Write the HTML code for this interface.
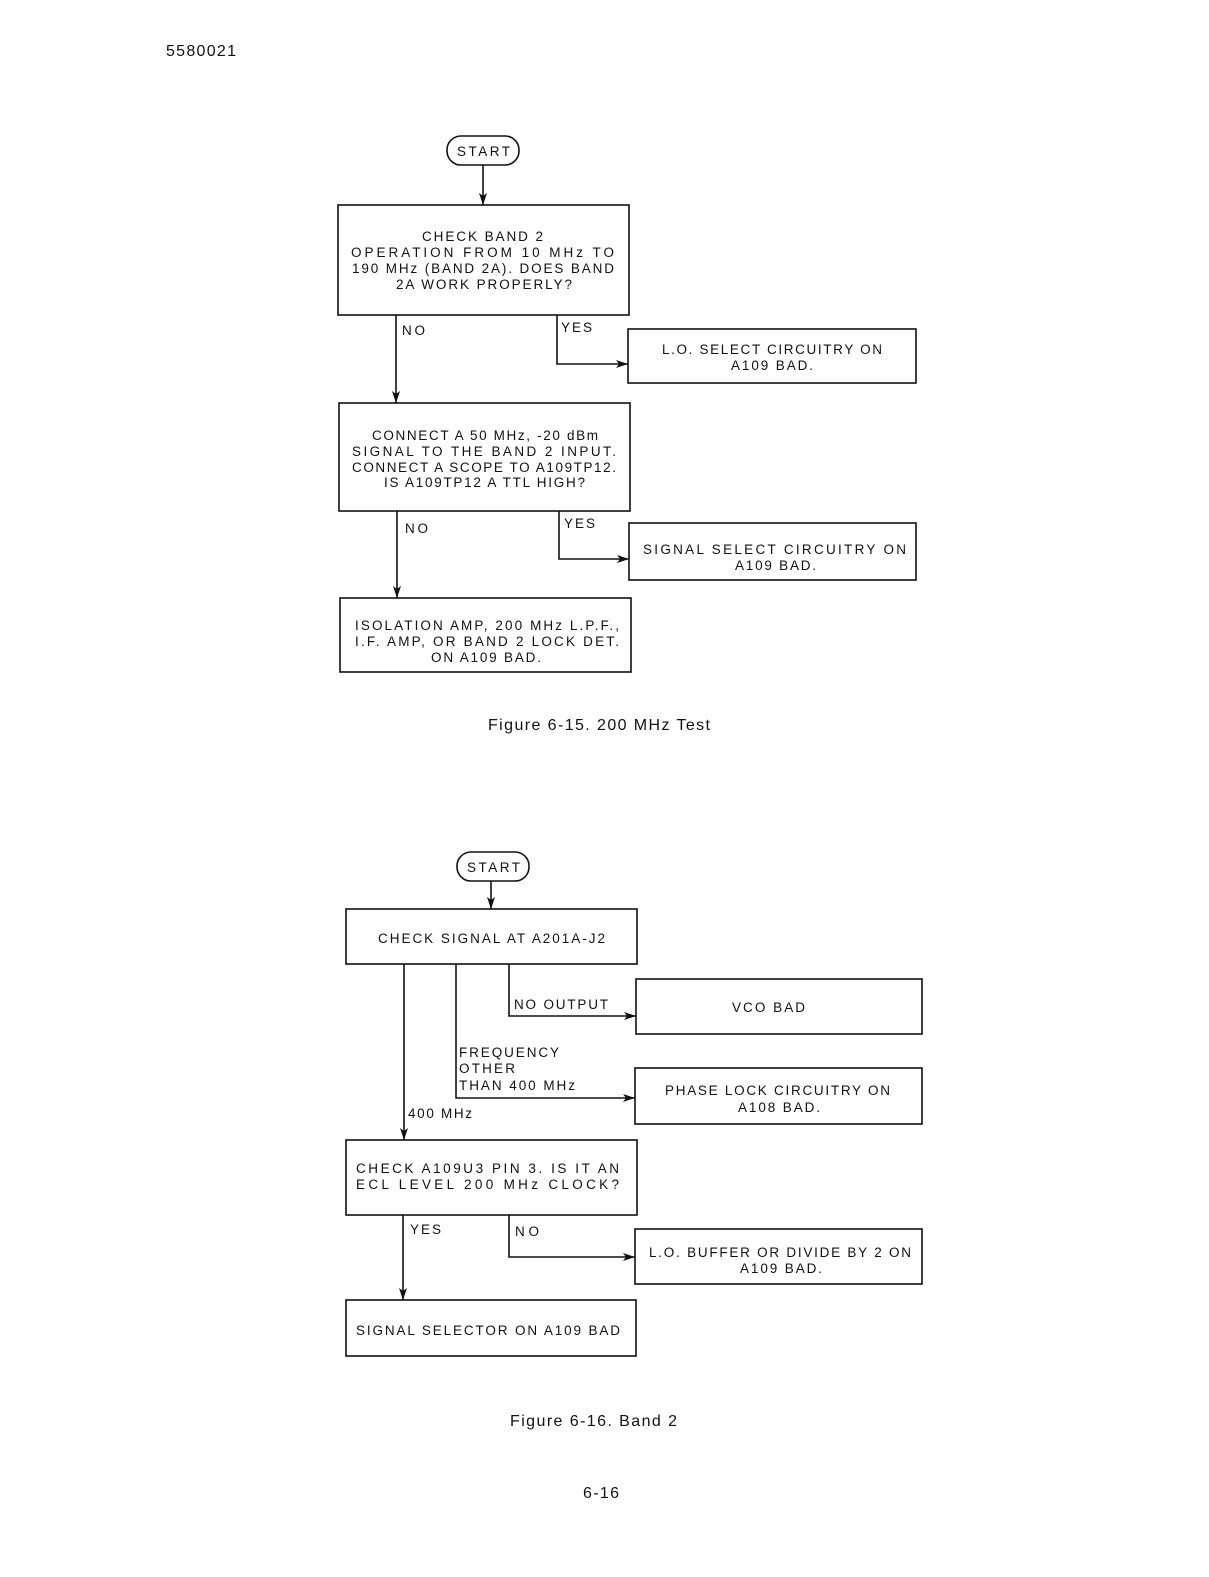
<!DOCTYPE html>
<html><head><meta charset="utf-8"><style>
html,body{margin:0;padding:0;background:#fff;}
svg{display:block;}
text{font-family:"Liberation Sans",sans-serif;font-size:13.5px;fill:#111;}
.c{text-anchor:start;}
</style></head><body>
<svg width="1209" height="1577" viewBox="0 0 1209 1577" xmlns="http://www.w3.org/2000/svg">
<defs><marker id="a" markerWidth="12" markerHeight="8" refX="12" refY="4" orient="auto" markerUnits="userSpaceOnUse"><path d="M0,0 L12,4 L0,8 L3,4 Z" fill="#111"/></marker></defs>
<g stroke="#111" stroke-width="1.6" fill="none">
<rect x="447" y="136" width="72" height="29" rx="14"/>
<line x1="483" y1="165" x2="483" y2="205" marker-end="url(#a)"/>
<rect x="338" y="205" width="291" height="110"/>
<line x1="396" y1="315" x2="396" y2="403" marker-end="url(#a)"/>
<polyline points="557,315 557,364 628,364" marker-end="url(#a)"/>
<rect x="628" y="329" width="288" height="54"/>
<rect x="339" y="403" width="291" height="108"/>
<line x1="397" y1="511" x2="397" y2="598" marker-end="url(#a)"/>
<polyline points="559,511 559,559 629,559" marker-end="url(#a)"/>
<rect x="629" y="523" width="287" height="57"/>
<rect x="340" y="598" width="291" height="74"/>

<rect x="457" y="852" width="72" height="29" rx="14"/>
<line x1="491" y1="881" x2="491" y2="909" marker-end="url(#a)"/>
<rect x="346" y="909" width="291" height="55"/>
<line x1="404" y1="964" x2="404" y2="1140" marker-end="url(#a)"/>
<polyline points="456,964 456,1098 635,1098" marker-end="url(#a)"/>
<polyline points="509,964 509,1016 636,1016" marker-end="url(#a)"/>
<rect x="636" y="979" width="286" height="55"/>
<rect x="635" y="1068" width="287" height="56"/>
<rect x="346" y="1140" width="291" height="75"/>
<line x1="403" y1="1215" x2="403" y2="1300" marker-end="url(#a)"/>
<polyline points="509,1215 509,1257 635,1257" marker-end="url(#a)"/>
<rect x="635" y="1229" width="287" height="55"/>
<rect x="346" y="1300" width="290" height="56"/>
</g>
<g lengthAdjust="spacingAndGlyphs">
<text x="166" y="56" textLength="70" style="font-size:16px">5580021</text>
<text x="457" y="156" textLength="53">START</text>
<text x="422" y="241" textLength="121">CHECK BAND 2</text>
<text x="351" y="257" textLength="263">OPERATION FROM 10 MHz TO</text>
<text x="352" y="273" textLength="262">190 MHz (BAND 2A). DOES BAND</text>
<text x="396" y="289" textLength="176">2A WORK PROPERLY?</text>
<text x="402" y="335" textLength="23">NO</text>
<text x="561" y="332" textLength="31">YES</text>
<text x="662" y="354" textLength="220">L.O. SELECT CIRCUITRY ON</text>
<text x="731" y="370" textLength="82">A109 BAD.</text>
<text x="372" y="440" textLength="226">CONNECT A 50 MHz, -20 dBm</text>
<text x="352" y="456" textLength="264">SIGNAL TO THE BAND 2 INPUT.</text>
<text x="352" y="472" textLength="264">CONNECT A SCOPE TO A109TP12.</text>
<text x="384" y="487" textLength="201">IS A109TP12 A TTL HIGH?</text>
<text x="405" y="533" textLength="23">NO</text>
<text x="564" y="528" textLength="31">YES</text>
<text x="643" y="554" textLength="263">SIGNAL SELECT CIRCUITRY ON</text>
<text x="735" y="570" textLength="81">A109 BAD.</text>
<text x="355" y="630" textLength="264">ISOLATION AMP, 200 MHz L.P.F.,</text>
<text x="355" y="646" textLength="264">I.F. AMP, OR BAND 2 LOCK DET.</text>
<text x="431" y="662" textLength="110">ON A109 BAD.</text>
<text x="488" y="730" textLength="222" style="font-size:16px">Figure 6-15.   200 MHz Test</text>

<text x="467" y="872" textLength="53">START</text>
<text x="378" y="943" textLength="227">CHECK SIGNAL AT A201A-J2</text>
<text x="514" y="1009" textLength="94">NO OUTPUT</text>
<text x="732" y="1012" textLength="73">VCO BAD</text>
<text x="459" y="1057" textLength="100">FREQUENCY</text>
<text x="459" y="1073" textLength="56">OTHER</text>
<text x="459" y="1090" textLength="116">THAN 400 MHz</text>
<text x="665" y="1095" textLength="225">PHASE LOCK CIRCUITRY ON</text>
<text x="738" y="1112" textLength="82">A108 BAD.</text>
<text x="408" y="1118" textLength="64">400 MHz</text>
<text x="356" y="1173" textLength="263">CHECK A109U3 PIN 3. IS IT AN</text>
<text x="356" y="1189" textLength="263">ECL LEVEL 200 MHz CLOCK?</text>
<text x="410" y="1234" textLength="31">YES</text>
<text x="515" y="1236" textLength="24">NO</text>
<text x="649" y="1257" textLength="262">L.O. BUFFER OR DIVIDE BY 2 ON</text>
<text x="740" y="1273" textLength="82">A109 BAD.</text>
<text x="356" y="1335" textLength="264">SIGNAL SELECTOR ON A109 BAD</text>
<text x="510" y="1426" textLength="167" style="font-size:16px">Figure 6-16.   Band 2</text>
<text x="583" y="1498" textLength="36" style="font-size:16px">6-16</text>
</g>
</svg>
</body></html>
